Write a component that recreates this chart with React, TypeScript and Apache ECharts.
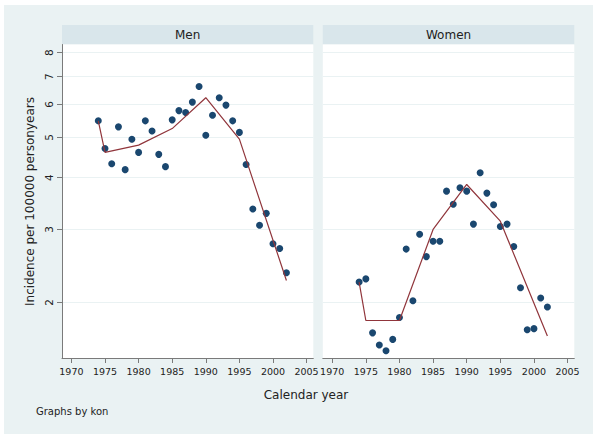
import React, { useEffect, useRef } from "react";
import * as echarts from "echarts";

const years = [1974, 1975, 1976, 1977, 1978, 1979, 1980, 1981, 1982, 1983, 1984, 1985, 1986, 1987, 1988, 1989, 1990, 1991, 1992, 1993, 1994, 1995, 1996, 1997, 1998, 1999, 2000, 2001, 2002];

const menRates = [5.48, 4.70, 4.32, 5.30, 4.18, 4.95, 4.60, 5.48, 5.18, 4.55, 4.25, 5.51, 5.80, 5.74, 6.08, 6.63, 5.06, 5.65, 6.23, 5.98, 5.48, 5.14, 4.30, 3.36, 3.07, 3.28, 2.77, 2.70, 2.36];
const womenRates = [2.24, 2.28, 1.69, 1.58, 1.53, 1.63, 1.84, 2.69, 2.02, 2.92, 2.58, 2.81, 2.81, 3.71, 3.45, 3.78, 3.71, 3.09, 4.11, 3.67, 3.44, 3.05, 3.09, 2.73, 2.17, 1.72, 1.73, 2.05, 1.95];

const fitYears = [1974, 1975, 1980, 1985, 1990, 1995, 2002];
const menFit = [5.48, 4.60, 4.79, 5.25, 6.23, 4.95, 2.26];
const womenFit = [2.24, 1.81, 1.81, 3.00, 3.85, 3.14, 1.66];

const xTicks = [1970, 1975, 1980, 1985, 1990, 1995, 2000, 2005];
const yTicks = [2, 3, 4, 5, 6, 7, 8];
const panelTitles = ["Men", "Women"];

const FONT = "DejaVu Sans";
const AXIS_GREY = "#7a7a7a";
const GRID_LINE = "#eaf2f3";
const NAVY = "#1a476f";
const MAROON = "#90353b";

export default function App() {
  const ref = useRef<HTMLDivElement>(null);

  useEffect(() => {
    if (!ref.current) return;
    const chart = echarts.init(ref.current, undefined, { renderer: "svg" });

    const headerX = [62, 322.8];
    const headerW = [251.3, 251.5];

    const grids = [0, 1].map((i) => ({
      left: headerX[i],
      top: 44.5,
      width: headerW[i],
      height: 314,
      show: true,
      backgroundColor: "#ffffff",
      borderWidth: 0,
    }));

    const xRanges = [
      [1968.6, 2006.0],
      [1968.6, 2006.0],
    ];

    const xAxes = [0, 1].map((i) => ({
      type: "value",
      gridIndex: i,
      min: xRanges[i][0],
      max: xRanges[i][1],
      axisLine: { show: true, onZero: false, lineStyle: { color: AXIS_GREY, width: 1 } },
      axisTick: { show: true, length: 4.5, lineStyle: { color: AXIS_GREY }, customValues: xTicks },
      axisLabel: {
        show: true,
        customValues: xTicks,
        showMinLabel: true,
        showMaxLabel: true,
        hideOverlap: false,
        formatter: (v: number) => String(Math.round(v)),
        fontFamily: FONT,
        fontSize: 9.5,
        color: "#222",
        margin: 8,
      },
      splitLine: { show: false },
    }));

    const yAxes = [0, 1].map((i) => ({
      type: "log",
      logBase: 10,
      gridIndex: i,
      min: 1.466,
      max: 8.37,
      axisLine: { show: i === 0, onZero: false, lineStyle: { color: AXIS_GREY, width: 1 } },
      axisTick: { show: i === 0, length: 5, lineStyle: { color: AXIS_GREY }, customValues: yTicks },
      axisLabel: {
        show: i === 0,
        customValues: yTicks,
        showMinLabel: true,
        showMaxLabel: true,
        formatter: (v: number) => String(Math.round(v)),
        rotate: 90,
        fontFamily: FONT,
        fontSize: 10.5,
        color: "#222",
        margin: 8,
      },
      splitLine: { show: true, lineStyle: { color: GRID_LINE, width: 1.2 } },
      minorTick: { show: false },
      minorSplitLine: { show: false },
    }));

    const rates = [menRates, womenRates];
    const fits = [menFit, womenFit];

    const series: any[] = [];
    [0, 1].forEach((i) => {
      series.push({
        type: "scatter",
        xAxisIndex: i,
        yAxisIndex: i,
        symbol: "circle",
        symbolSize: 7,
        itemStyle: { color: NAVY, opacity: 1 },
        data: years.map((y, k) => [y, rates[i][k]]),
        z: 2,
      });
      series.push({
        type: "line",
        xAxisIndex: i,
        yAxisIndex: i,
        showSymbol: false,
        symbol: "none",
        lineStyle: { color: MAROON, width: 1.2 },
        data: fitYears.map((y, k) => [y, fits[i][k]]),
        z: 3,
      });
    });

    const graphic: any[] = [
      { type: "rect", z: -10, silent: true, shape: { x: 4, y: 5, width: 589, height: 429 }, style: { fill: "#eaf2f3" } },
    ];
    [0, 1].forEach((i) => {
      graphic.push({
        type: "rect",
        z: -5,
        shape: { x: headerX[i], y: 25, width: headerW[i], height: 19.3 },
        style: { fill: "#d9e6eb" },
      });
      graphic.push({
        type: "text",
        x: headerX[i] + headerW[i] / 2,
        y: 35,
        style: { text: panelTitles[i], fontFamily: FONT, fontSize: 12, fill: "#222", align: "center", verticalAlign: "middle" },
      });
    });
    graphic.push({
      type: "text",
      x: 30,
      y: 201.5,
      rotation: Math.PI / 2,
      style: { text: "Incidence per 100000 personyears", fontFamily: FONT, fontSize: 12, fill: "#222", align: "center", verticalAlign: "middle" },
    });
    graphic.push({
      type: "text",
      x: 306,
      y: 394.5,
      style: { text: "Calendar year", fontFamily: FONT, fontSize: 12, fill: "#222", align: "center", verticalAlign: "middle" },
    });
    graphic.push({
      type: "text",
      x: 36,
      y: 411,
      style: { text: "Graphs by kon", fontFamily: FONT, fontSize: 10, fill: "#222", align: "left", verticalAlign: "middle" },
    });

    chart.setOption({
      animation: false,
      backgroundColor: "#ffffff",
      grid: grids,
      xAxis: xAxes,
      yAxis: yAxes,
      series,
      graphic,
    });

    return () => {
      chart.dispose();
    };
  }, []);

  return (
    <div
      ref={ref}
      style={{ position: "fixed", left: 0, top: 0, width: 600, height: 439 }}
    />
  );
}
